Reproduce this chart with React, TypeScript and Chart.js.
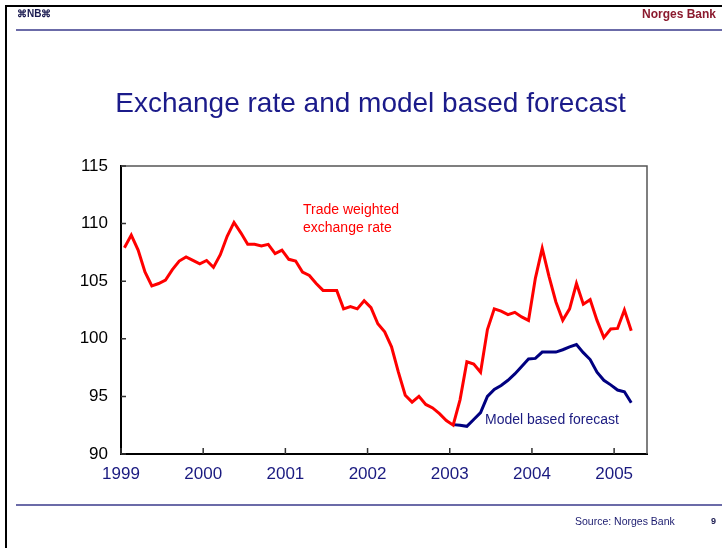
import React, { useEffect, useRef } from "react";
import { Chart, registerables } from "chart.js";

Chart.register(...registerables);

// Monthly observations, January 1999 – March 2005
const startYear = 1999;
const tradeWeighted = [
  107.9, 109.0, 107.7, 105.8, 104.6, 104.8, 105.1, 106.0, 106.75, 107.1, 106.8, 106.5,
  106.8, 106.2, 107.3, 108.9, 110.1, 109.2, 108.2, 108.2, 108.05, 108.2, 107.4, 107.7,
  106.9, 106.75, 105.8, 105.5, 104.8, 104.2, 104.2, 104.2, 102.6, 102.8, 102.6, 103.3,
  102.7, 101.3, 100.6, 99.3, 97.1, 95.1, 94.5, 95.0, 94.3, 94.0, 93.5, 92.9,
  92.5, 94.7, 98.0, 97.8, 97.1, 100.8, 102.6, 102.4, 102.1, 102.3, 101.9, 101.6,
  105.25, 107.85, 105.4, 103.2, 101.6, 102.6, 104.8, 103.0, 103.4, 101.6, 100.1, 100.85,
  100.9, 102.5, 100.7,
];
// Model based forecast starts January 2003 (month index 48)
const forecastStartIndex = 48;
const modelForecast = [
  92.55, 92.5, 92.4, 93.0, 93.6, 95.0, 95.6, 95.95, 96.4, 96.95, 97.6, 98.25,
  98.3, 98.85, 98.85, 98.85, 99.05, 99.3, 99.5, 98.8, 98.2, 97.1, 96.4, 96.0,
  95.55, 95.4, 94.45,
];
const yearTicks = [1999, 2000, 2001, 2002, 2003, 2004, 2005];
const valueTicks = [90, 95, 100, 105, 110, 115];

const FONT = '"Liberation Sans", Arial, Helvetica, sans-serif';
const NAVY = "#1a1a80";

const monthX = (i: number) => startYear + (i + 0.5) / 12;

const innerTicks = {
  id: "innerTicks",
  afterDraw(chart: any) {
    const { ctx, chartArea, scales } = chart;
    const { left, right, top, bottom } = chartArea;
    ctx.save();
    // top and right frame
    ctx.strokeStyle = "#555555";
    ctx.lineWidth = 1.5;
    ctx.beginPath();
    ctx.moveTo(left, top);
    ctx.lineTo(right, top);
    ctx.lineTo(right, bottom);
    ctx.stroke();
    // inward tick marks
    ctx.strokeStyle = "#333333";
    ctx.lineWidth = 1.5;
    ctx.beginPath();
    valueTicks.forEach((v) => {
      const y = scales.y.getPixelForValue(v);
      ctx.moveTo(left, y);
      ctx.lineTo(left + 5, y);
    });
    yearTicks.forEach((v) => {
      const x = scales.x.getPixelForValue(v);
      ctx.moveTo(x, bottom);
      ctx.lineTo(x, bottom - 6);
    });
    ctx.stroke();
    ctx.restore();
  },
};

function ChartCanvas() {
  const ref = useRef<HTMLCanvasElement>(null);
  useEffect(() => {
    if (!ref.current) return;
    const chart = new Chart(ref.current, {
      type: "line",
      data: {
        datasets: [
          {
            label: "Trade weighted exchange rate",
            data: tradeWeighted.map((v, i) => ({ x: monthX(i), y: v })),
            borderColor: "#ff0000",
            borderWidth: 3,
            pointRadius: 0,
            tension: 0,
            fill: false,
          },
          {
            label: "Model based forecast",
            data: modelForecast.map((v, i) => ({ x: monthX(forecastStartIndex + i), y: v })),
            borderColor: "#000080",
            borderWidth: 3,
            pointRadius: 0,
            tension: 0,
            fill: false,
          },
        ],
      },
      options: {
        responsive: false,
        animation: false,
        devicePixelRatio: 1,
        layout: { padding: { top: 166, left: 0, right: 75, bottom: 54 } },
        plugins: {
          legend: { display: false },
          tooltip: { enabled: false },
        },
        scales: {
          x: {
            type: "linear",
            min: 1999,
            max: 2005.4,
            afterBuildTicks: (scale: any) => {
              scale.ticks = yearTicks.map((v) => ({ value: v }));
            },
            afterFit: (scale: any) => {
              scale.height = 40;
            },
            grid: { display: false, drawTicks: false },
            border: { display: true, color: "#000000", width: 2 },
            ticks: {
              padding: 10,
              color: NAVY,
              font: { family: FONT, size: 17 },
              maxRotation: 0,
              callback: (v: any) => String(v),
            },
          },
          y: {
            type: "linear",
            min: 90,
            max: 115,
            afterBuildTicks: (scale: any) => {
              scale.ticks = valueTicks.map((v) => ({ value: v }));
            },
            afterFit: (scale: any) => {
              scale.width = 121;
            },
            grid: { display: false, drawTicks: false },
            border: { display: true, color: "#000000", width: 2 },
            ticks: {
              padding: 13,
              color: "#000000",
              font: { family: FONT, size: 17 },
              callback: (v: any) => String(v),
            },
          },
        },
      },
      plugins: [innerTicks],
    });
    return () => chart.destroy();
  }, []);
  return (
    <canvas
      ref={ref}
      width={722}
      height={548}
      style={{ position: "absolute", left: 0, top: 0, width: 722, height: 548 }}
    />
  );
}

export default function App() {
  const abs = (s: React.CSSProperties): React.CSSProperties => ({
    position: "absolute",
    whiteSpace: "nowrap",
    fontFamily: FONT,
    ...s,
  });
  return (
    <div
      style={{
        position: "fixed",
        left: 0,
        top: 0,
        width: 722,
        height: 548,
        background: "#ffffff",
        overflow: "hidden",
      }}
    >
      <ChartCanvas />
      {/* slide frame */}
      <div style={abs({ left: 5, top: 5, width: 717, height: 2, background: "#000" })} />
      <div style={abs({ left: 5, top: 5, width: 2, height: 543, background: "#000" })} />
      {/* header */}
      <div style={abs({ left: 17, top: 7, fontSize: 10, fontWeight: "bold", color: "#1a1a50", lineHeight: "14px" })}>
        ⌘NB⌘
      </div>
      <div style={abs({ right: 6, top: 7, fontSize: 12, fontWeight: "bold", color: "#8b1a2e", lineHeight: "14px" })}>
        Norges Bank
      </div>
      <div style={abs({ left: 16, top: 29, width: 706, height: 2, background: "#6b6ba8" })} />
      {/* title */}
      <div
        style={abs({
          left: 0,
          width: 741,
          top: 86,
          textAlign: "center",
          fontSize: 28,
          color: "#1b1b8a",
          lineHeight: "34px",
        })}
      >
        Exchange rate and model based forecast
      </div>
      {/* annotations */}
      <div style={abs({ left: 303, top: 201, fontSize: 14, color: "#ff0000", lineHeight: "17.5px" })}>
        Trade weighted
        <br />
        exchange rate
      </div>
      <div style={abs({ left: 485, top: 411, fontSize: 14, color: NAVY, lineHeight: "17px" })}>
        Model based forecast
      </div>
      {/* footer */}
      <div style={abs({ left: 16, top: 504, width: 706, height: 2, background: "#6b6ba8" })} />
      <div style={abs({ left: 575, top: 514, fontSize: 10.5, color: "#1a1a6e", lineHeight: "14px" })}>
        Source: Norges Bank
      </div>
      <div style={abs({ left: 711, top: 515, fontSize: 9, fontWeight: "bold", color: "#1a1a50", lineHeight: "12px" })}>
        9
      </div>
    </div>
  );
}
